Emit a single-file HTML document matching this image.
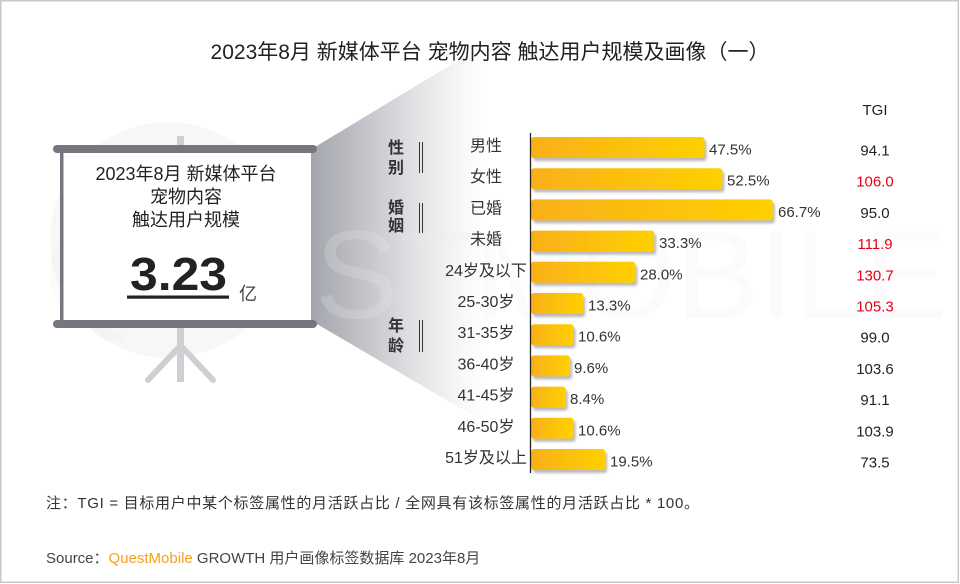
<!DOCTYPE html>
<html>
<head>
<meta charset="utf-8">
<style>
  html,body{margin:0;padding:0;background:#fff;}
  svg{display:block;}
  text{font-family:"Liberation Sans","Noto Sans CJK SC",sans-serif;}
</style>
</head>
<body>
<svg width="960" height="584" viewBox="0 0 960 584" xmlns="http://www.w3.org/2000/svg">
  <defs>
    <linearGradient id="cone" x1="310" y1="0" x2="490" y2="0" gradientUnits="userSpaceOnUse">
      <stop offset="0" stop-color="#a3a5ac"/>
      <stop offset="0.3" stop-color="#c3c4c9"/>
      <stop offset="0.6" stop-color="#e3e4e6"/>
      <stop offset="0.85" stop-color="#f8f8f9"/>
      <stop offset="1" stop-color="#ffffff"/>
    </linearGradient>
    <linearGradient id="bar" x1="0" y1="0" x2="1" y2="0">
      <stop offset="0" stop-color="#f9b01a"/>
      <stop offset="1" stop-color="#ffd000"/>
    </linearGradient>
    <filter id="sh" x="-10%" y="-30%" width="130%" height="180%">
      <feDropShadow dx="2" dy="3" stdDeviation="1.3" flood-color="#8a8a8a" flood-opacity="0.6"/>
    </filter>
  </defs>

  <rect x="0" y="0" width="960" height="584" fill="#fff"/>

  <!-- faint circle behind screen -->
  <circle cx="168" cy="240" r="118" fill="#f7f7f7"/>

  <!-- cone -->
  <polygon points="310,150 520,23 520,443 310,320" fill="url(#cone)"/>

  <!-- watermark -->
  <text x="44" y="318" font-size="125" fill="#eeeeee" fill-opacity="0.22">QUESTMOBILE</text>

  <!-- stand -->
  <rect x="177" y="136" width="7" height="12" fill="#cfcfd3"/>
  <rect x="177" y="326" width="7" height="56" fill="#cfcfd3"/>
  <line x1="180" y1="346" x2="148" y2="380" stroke="#cfcfd3" stroke-width="6" stroke-linecap="round"/>
  <line x1="181" y1="346" x2="213" y2="380" stroke="#cfcfd3" stroke-width="6" stroke-linecap="round"/>

  <!-- screen -->
  <rect x="62" y="152" width="249" height="169" fill="#fff"/>
  <rect x="60" y="150" width="3.5" height="172" fill="#76767e"/>
  <rect x="53" y="145" width="264" height="8" rx="4" fill="#76767e"/>
  <rect x="53" y="320" width="264" height="8" rx="4" fill="#76767e"/>

  <text x="186" y="180" font-size="18" fill="#222" text-anchor="middle">2023年8月 新媒体平台</text>
  <text x="186" y="203" font-size="18" fill="#222" text-anchor="middle">宠物内容</text>
  <text x="186" y="226" font-size="18" fill="#222" text-anchor="middle">触达用户规模</text>
  <text x="130" y="290" font-size="46" font-weight="bold" fill="#222" textLength="97" lengthAdjust="spacingAndGlyphs">3.23</text>
  <rect x="127" y="295.5" width="102" height="3.2" fill="#222"/>
  <text x="239" y="300" font-size="18" fill="#444">亿</text>

  <!-- title -->
  <text x="490" y="59" font-size="21" fill="#222" text-anchor="middle">2023年8月 新媒体平台 宠物内容 触达用户规模及画像（一）</text>

  <!-- group labels -->
  <g font-size="16" font-weight="bold" fill="#333" text-anchor="middle">
    <text x="396" y="153">性</text>
    <text x="396" y="173">别</text>
    <text x="396" y="213">婚</text>
    <text x="396" y="231">姻</text>
    <text x="396" y="331">年</text>
    <text x="396" y="351">龄</text>
  </g>
  <g stroke="#333" stroke-width="1">
    <line x1="419.5" y1="142" x2="419.5" y2="173"/><line x1="422.5" y1="142" x2="422.5" y2="173"/>
    <line x1="419.5" y1="203" x2="419.5" y2="233"/><line x1="422.5" y1="203" x2="422.5" y2="233"/>
    <line x1="419.5" y1="320" x2="419.5" y2="352"/><line x1="422.5" y1="320" x2="422.5" y2="352"/>
  </g>

  <!-- category labels -->
  <g font-size="16" fill="#333" text-anchor="middle">
    <text x="486" y="151">男性</text>
    <text x="486" y="182.2">女性</text>
    <text x="486" y="213.4">已婚</text>
    <text x="486" y="244.6">未婚</text>
    <text x="486" y="275.8">24岁及以下</text>
    <text x="486" y="307">25-30岁</text>
    <text x="486" y="338.2">31-35岁</text>
    <text x="486" y="369.4">36-40岁</text>
    <text x="486" y="400.6">41-45岁</text>
    <text x="486" y="431.8">46-50岁</text>
    <text x="486" y="463">51岁及以上</text>
  </g>

  <!-- bars -->
  <g fill="url(#bar)" filter="url(#sh)">
    <rect x="531" y="137" width="173.6" height="21" rx="3"/>
    <rect x="531" y="168.2" width="191.4" height="21" rx="3"/>
    <rect x="531" y="199.4" width="241.8" height="21" rx="3"/>
    <rect x="531" y="230.6" width="123.2" height="21" rx="3"/>
    <rect x="531" y="261.8" width="104.4" height="21" rx="3"/>
    <rect x="531" y="293" width="52.2" height="21" rx="3"/>
    <rect x="531" y="324.2" width="42.6" height="21" rx="3"/>
    <rect x="531" y="355.4" width="39.1" height="21" rx="3"/>
    <rect x="531" y="386.6" width="34.8" height="21" rx="3"/>
    <rect x="531" y="417.8" width="42.6" height="21" rx="3"/>
    <rect x="531" y="449" width="74.2" height="21" rx="3"/>
  </g>
  <line x1="530.5" y1="133" x2="530.5" y2="473" stroke="#222" stroke-width="1.3"/>

  <!-- value labels -->
  <g font-size="15" fill="#333">
    <text x="709" y="154.5">47.5%</text>
    <text x="727" y="185.7">52.5%</text>
    <text x="778" y="216.9">66.7%</text>
    <text x="659" y="248.1">33.3%</text>
    <text x="640" y="279.3">28.0%</text>
    <text x="588" y="310.5">13.3%</text>
    <text x="578" y="341.7">10.6%</text>
    <text x="574" y="372.9">9.6%</text>
    <text x="570" y="404.1">8.4%</text>
    <text x="578" y="435.3">10.6%</text>
    <text x="610" y="466.5">19.5%</text>
  </g>

  <!-- TGI -->
  <g font-size="15" text-anchor="middle">
    <text x="875" y="115" fill="#222">TGI</text>
    <text x="875" y="155.5" fill="#222">94.1</text>
    <text x="875" y="186.7" fill="#e60012">106.0</text>
    <text x="875" y="217.9" fill="#222">95.0</text>
    <text x="875" y="249.1" fill="#e60012">111.9</text>
    <text x="875" y="280.3" fill="#e60012">130.7</text>
    <text x="875" y="311.5" fill="#e60012">105.3</text>
    <text x="875" y="342.7" fill="#222">99.0</text>
    <text x="875" y="373.9" fill="#222">103.6</text>
    <text x="875" y="405.1" fill="#222">91.1</text>
    <text x="875" y="436.3" fill="#222">103.9</text>
    <text x="875" y="467.5" fill="#222">73.5</text>
  </g>

  <!-- footnotes -->
  <text x="46" y="508" font-size="15" fill="#333" textLength="653" lengthAdjust="spacing">注：TGI = 目标用户中某个标签属性的月活跃占比 / 全网具有该标签属性的月活跃占比 * 100。</text>
  <text x="46" y="563" font-size="15" fill="#444">Source：<tspan fill="#f5a01e">QuestMobile</tspan> GROWTH 用户画像标签数据库 2023年8月</text>

  <!-- border -->
  <rect x="0.75" y="0.75" width="957.5" height="581.5" fill="none" stroke="#c8c8c8" stroke-width="1.5"/>
</svg>
</body>
</html>
